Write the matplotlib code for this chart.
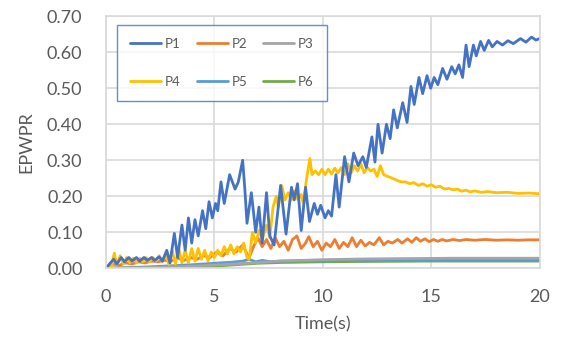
import matplotlib
matplotlib.use("Agg")
import matplotlib.pyplot as plt

plt.rcParams['font.family'] = ['Lato', 'DejaVu Sans']

# ---- data ----
p1_t = [0.0, 0.2, 0.35, 0.5, 0.7, 0.85, 1.05, 1.2, 1.4, 1.55, 1.75, 1.9, 2.1, 2.25, 2.45, 2.6,
        2.8, 2.95, 3.15, 3.3, 3.5, 3.65, 3.8, 3.95, 4.1, 4.25, 4.45, 4.6, 4.75, 4.9, 5.05, 5.15,
        5.3, 5.45, 5.7, 5.95, 6.1, 6.3, 6.4, 6.5, 6.7, 6.9, 7.05, 7.2, 7.4, 7.55, 7.75, 8.05,
        8.3, 8.55, 8.68, 8.83, 9.0, 9.2, 9.38, 9.6, 9.75, 9.9, 10.1, 10.25, 10.4, 10.6, 10.75,
        11.0, 11.2, 11.42, 11.62, 11.84, 12.0, 12.26, 12.4, 12.54, 12.73, 12.93, 13.1, 13.26,
        13.43, 13.68, 13.88, 14.06, 14.21, 14.43, 14.6, 14.8, 14.97, 15.13, 15.3, 15.52, 15.72,
        15.94, 16.1, 16.27, 16.44, 16.6, 16.74, 16.94, 17.07, 17.27, 17.44, 17.64, 17.81, 18.03,
        18.28, 18.53, 18.78, 19.11, 19.36, 19.62, 19.82, 20.0]
p1_v = [0.0, 0.015, 0.025, 0.012, 0.03, 0.018, 0.03, 0.02, 0.03, 0.02, 0.03, 0.022, 0.03, 0.022, 0.032, 0.02,
        0.05, 0.015, 0.097, 0.03, 0.12, 0.05, 0.14, 0.07, 0.135, 0.09, 0.16, 0.11, 0.185, 0.14, 0.18, 0.16,
        0.24, 0.18, 0.26, 0.22, 0.24, 0.30, 0.22, 0.125, 0.21, 0.10, 0.17, 0.07, 0.21, 0.09, 0.065, 0.23,
        0.095, 0.225, 0.19, 0.235, 0.105, 0.225, 0.13, 0.18, 0.15, 0.175, 0.14, 0.16, 0.145, 0.26, 0.17,
        0.31, 0.24, 0.32, 0.285, 0.31, 0.28, 0.365, 0.295, 0.40, 0.32, 0.40, 0.36, 0.44,
        0.39, 0.46, 0.405, 0.505, 0.455, 0.53, 0.485, 0.535, 0.50, 0.53, 0.51, 0.555, 0.525,
        0.56, 0.54, 0.565, 0.53, 0.62, 0.56, 0.62, 0.59, 0.63, 0.605, 0.633, 0.615, 0.63,
        0.62, 0.632, 0.624, 0.638, 0.628, 0.642, 0.634, 0.638]

p2_t = [0.0, 0.3, 0.6, 0.9, 1.2, 1.5, 1.8, 2.1, 2.4, 2.7, 3.0, 3.3, 3.6, 3.9, 4.2, 4.5, 4.8, 5.1,
        5.4, 5.7, 6.0, 6.3, 6.5, 6.6, 6.8, 7.0, 7.2, 7.4, 7.6, 7.8, 8.0, 8.2, 8.4, 8.6, 8.8, 9.0,
        9.2, 9.35, 9.55, 9.75, 9.95, 10.15, 10.35, 10.55, 10.75, 10.95, 11.15, 11.35, 11.55, 11.75,
        11.95, 12.15, 12.35, 12.6, 12.8, 13.0, 13.2, 13.45, 13.65, 13.9, 14.1, 14.3, 14.5, 14.7,
        14.9, 15.1, 15.3, 15.5, 15.7, 16.0, 16.3, 16.6, 17.0, 17.5, 18.0, 18.5, 19.0, 19.5, 20.0]
p2_v = [0.0, 0.012, 0.008, 0.015, 0.012, 0.018, 0.015, 0.02, 0.018, 0.022, 0.02, 0.028, 0.022, 0.03, 0.025, 0.035, 0.03, 0.045,
        0.035, 0.055, 0.045, 0.065, 0.04, 0.03, 0.06, 0.085, 0.06, 0.08, 0.055, 0.085, 0.06, 0.075, 0.05, 0.08, 0.09, 0.055,
        0.07, 0.088, 0.06, 0.075, 0.05, 0.07, 0.06, 0.08, 0.055, 0.072, 0.06, 0.085, 0.06, 0.078,
        0.062, 0.072, 0.065, 0.085, 0.065, 0.075, 0.07, 0.08, 0.07, 0.082, 0.072, 0.085, 0.075, 0.082,
        0.074, 0.08, 0.075, 0.08, 0.076, 0.08, 0.077, 0.08, 0.078, 0.08, 0.078, 0.079, 0.078, 0.079, 0.079]

p3_t = [0, 2, 4, 6, 7, 8, 9, 10, 11, 12, 14, 16, 20]
p3_v = [0.0, 0.002, 0.006, 0.012, 0.016, 0.02, 0.022, 0.024, 0.025, 0.026, 0.027, 0.028, 0.028]

p4_t = [0.0, 0.25, 0.38, 0.5, 0.65, 0.8, 0.95, 1.1, 1.25, 1.4, 1.55, 1.7, 1.85, 2.0, 2.15, 2.3,
        2.45, 2.6, 2.75, 2.9, 3.05, 3.2, 3.35, 3.5, 3.65, 3.8, 3.95, 4.1, 4.25, 4.4, 4.55, 4.7,
        4.85, 5.0, 5.15, 5.3, 5.45, 5.6, 5.75, 5.9, 6.05, 6.2, 6.35, 6.5, 6.6, 6.75, 6.9, 7.05,
        7.2, 7.4, 7.55, 7.7, 7.85, 7.95, 8.1, 8.25, 8.4, 8.55, 8.7, 8.85, 9.0, 9.1, 9.25, 9.4,
        9.5, 9.65, 9.8, 9.95, 10.1, 10.25, 10.4, 10.55, 10.7, 10.85, 11.0, 11.15, 11.3, 11.45,
        11.6, 11.75, 11.9, 12.05, 12.2, 12.35, 12.5, 12.65, 12.8, 13.0, 13.2, 13.4, 13.6, 13.8,
        14.0, 14.2, 14.4, 14.6, 14.8, 15.0, 15.2, 15.4, 15.6, 15.8, 16.0, 16.2, 16.4, 16.6, 16.8,
        17.0, 17.3, 17.6, 18.0, 18.5, 19.0, 19.5, 20.0]
p4_v = [0.0, 0.005, 0.042, 0.01, 0.035, 0.012, 0.03, 0.015, 0.028, 0.015, 0.028, 0.018, 0.03, 0.018, 0.03, 0.02,
        0.035, 0.018, 0.04, 0.01, 0.05, 0.012, 0.055, 0.015, 0.05, 0.015, 0.055, 0.02, 0.055, 0.025, 0.05, 0.02,
        0.045, 0.03, 0.05, 0.035, 0.06, 0.04, 0.065, 0.04, 0.06, 0.045, 0.07, 0.03, 0.025, 0.10, 0.07, 0.105,
        0.08, 0.12, 0.085, 0.17, 0.20, 0.17, 0.23, 0.19, 0.21, 0.19, 0.215, 0.19, 0.205, 0.18, 0.25, 0.305,
        0.26, 0.27, 0.26, 0.275, 0.26, 0.275, 0.262, 0.278, 0.265, 0.28, 0.26, 0.29, 0.265, 0.285,
        0.27, 0.29, 0.265, 0.28, 0.27, 0.275, 0.255, 0.285, 0.26, 0.255, 0.25, 0.245, 0.24, 0.24,
        0.235, 0.238, 0.23, 0.235, 0.228, 0.232, 0.225, 0.228, 0.22, 0.222, 0.218, 0.22, 0.214, 0.217, 0.212,
        0.215, 0.211, 0.213, 0.21, 0.211, 0.208, 0.209, 0.207]

p5_t = [0, 1, 2, 3, 4, 5, 5.8, 6.3, 6.6, 6.9, 7.2, 7.6, 8, 9, 10, 11, 12, 14, 16, 20]
p5_v = [0.0, 0.002, 0.004, 0.007, 0.01, 0.014, 0.017, 0.02, 0.025, 0.018, 0.022, 0.018, 0.02, 0.021, 0.02, 0.022, 0.021, 0.022, 0.022, 0.022]

p6_t = [0, 2, 4, 5, 6, 7, 8, 9, 10, 12, 15, 20]
p6_v = [0.0, 0.001, 0.003, 0.006, 0.01, 0.014, 0.016, 0.017, 0.018, 0.019, 0.02, 0.02]

labels = ["P1", "P2", "P3", "P4", "P5", "P6"]
colors = ["#4472C4", "#ED7D31", "#A5A5A5", "#FFC000", "#5B9BD5", "#70AD47"]
xticks = [0, 5, 10, 15, 20]
yticks = [0.0, 0.1, 0.2, 0.3, 0.4, 0.5, 0.6, 0.7]

series = [(p1_t, p1_v), (p2_t, p2_v), (p3_t, p3_v), (p4_t, p4_v), (p5_t, p5_v), (p6_t, p6_v)]

fig = plt.figure(figsize=(5.67, 3.42), dpi=100)
ax = fig.add_axes([0.187, 0.2155, 0.765, 0.737])

draw_order = [5, 4, 2, 1, 3, 0]
hmap = {}
for i in draw_order:
    t, v = series[i]
    h, = ax.plot(t, v, color=colors[i], lw=2.0, label=labels[i],
                 solid_joinstyle='round', solid_capstyle='round')
    hmap[i] = h

ax.set_xlim(0, 20)
ax.set_ylim(0, 0.7)
ax.set_xticks(xticks)
ax.set_yticks(yticks)
ax.set_yticklabels([f"{y:.2f}" for y in yticks])
ax.grid(True, color="#D9D9D9", lw=1.2)
ax.set_axisbelow(True)
for s in ax.spines.values():
    s.set_color("#D9D9D9")
    s.set_linewidth(1.2)
ax.tick_params(axis='both', length=0, labelsize=13, colors="#595959")
ax.tick_params(axis='y', pad=17)
ax.tick_params(axis='x', pad=15)
ax.set_xlabel("Time(s)", fontsize=13, color="#595959", labelpad=8)
ax.set_ylabel("EPWPR", fontsize=13, color="#595959", labelpad=9)

order = [0, 3, 1, 4, 2, 5]
leg = ax.legend([hmap[i] for i in order], [labels[i] for i in order], ncol=3,
                loc='upper left', bbox_to_anchor=(0.025, 0.966), borderaxespad=0,
                fontsize=9.5, frameon=True, fancybox=False, edgecolor="#4472C4",
                handlelength=2.35, handletextpad=0.3, columnspacing=1.2,
                labelspacing=1.95, borderpad=1.0)
leg.get_frame().set_linewidth(1.0)
for txt in leg.get_texts():
    txt.set_color("#595959")

fig.savefig("out.png", dpi=100, facecolor="white")
